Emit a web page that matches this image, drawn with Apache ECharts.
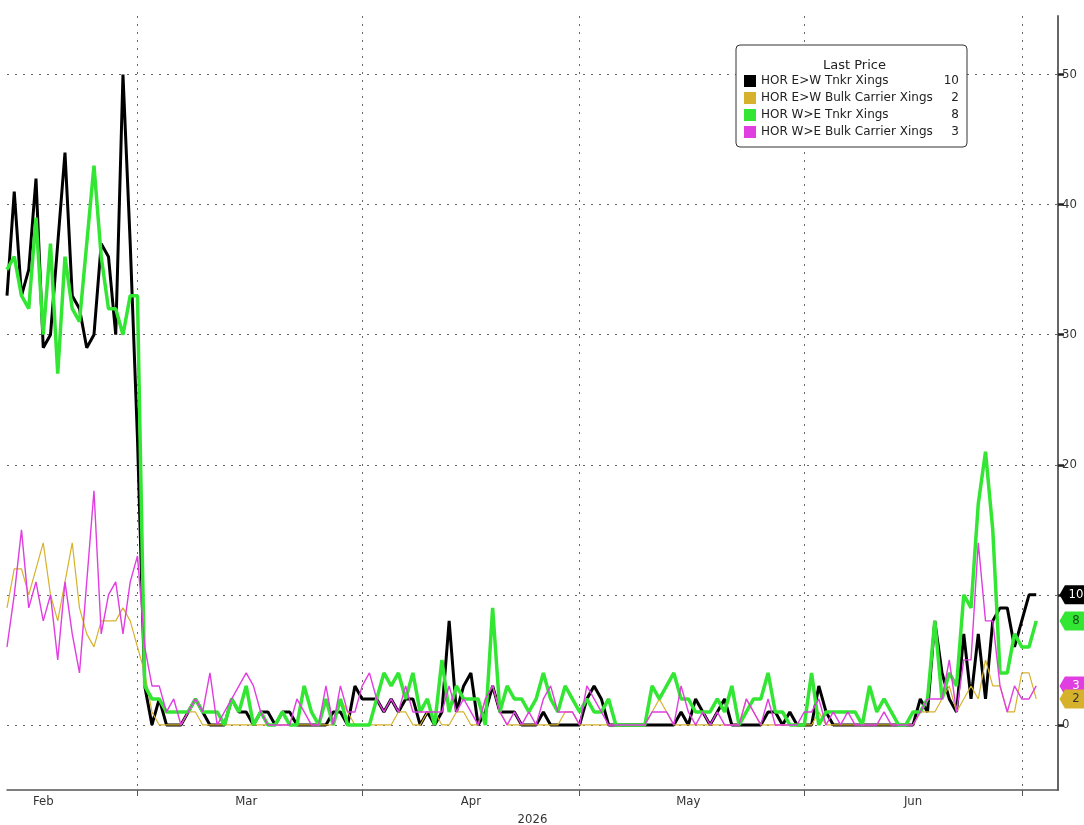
<!DOCTYPE html>
<html>
<head>
<meta charset="utf-8">
<script src="https://cdn.jsdelivr.net/npm/echarts@6/dist/echarts.min.js"></script>
<style>
  html, body { margin: 0; padding: 0; background: #fff; }
  #chart { width: 1084px; height: 825px; }
</style>
</head>
<body>
<div id="chart"></div>
<script>
// daily crossings, Feb 11 -> Jul 3 2026 (axis runs on to Jul 6)
const startDay = Date.UTC(2026, 1, 11);
const dayCount = 146;
const monthNames = ["Jan", "Feb", "Mar", "Apr", "May", "Jun", "Jul"];
const yTicks = [0, 10, 20, 30, 40, 50];

const ewTanker = [
  33, 41, 33, 35, 42, 29, 30, 37, 44, 33, 32, 29, 30, 37, 36, 30, 50, 37,
  22, 3, 0, 2, 0, 0, 0, 1, 2, 1, 0, 0, 0, 2, 1, 1, 0, 1, 1, 0, 1, 1, 0, 0, 0, 0, 0, 1, 1, 0, 3, 2,
  2, 2, 1, 2, 1, 2, 2, 0, 1, 0, 1, 8, 1, 3, 4, 0, 1, 3, 1, 1, 1, 0, 0, 0, 1, 0, 0, 0, 0, 0,
  2, 3, 2, 0, 0, 0, 0, 0, 0, 0, 0, 0, 0, 1, 0, 2, 1, 0, 1, 2, 0, 0, 0, 0, 0, 1, 1, 0, 1, 0,
  0, 0, 3, 1, 0, 0, 0, 0, 0, 0, 0, 0, 0, 0, 0, 0, 2, 1, 8, 4, 2, 1, 7, 2, 7, 2, 8, 9, 9, 6,
  8, 10, 10
];
const ewBulk = [
  9, 12, 12, 10, 12, 14, 10, 8, 11, 14, 9, 7, 6, 8, 8, 8, 9, 8,
  6, 4, 1, 0, 0, 0, 0, 1, 1, 0, 0, 0, 0, 0, 0, 0, 0, 0, 0, 0, 0, 0, 0, 0, 0, 0, 0, 0, 2, 1, 0, 0,
  0, 0, 0, 0, 1, 1, 0, 0, 1, 1, 0, 0, 1, 1, 0, 0, 2, 3, 1, 0, 0, 0, 0, 0, 0, 0, 0, 1, 1, 0,
  0, 0, 0, 0, 0, 0, 0, 0, 0, 1, 2, 1, 0, 0, 0, 0, 0, 0, 0, 0, 0, 0, 2, 1, 0, 0, 0, 0, 0, 0,
  0, 0, 1, 0, 0, 0, 0, 0, 0, 0, 0, 0, 0, 0, 0, 0, 1, 1, 1, 2, 3, 1, 2, 3, 2, 5, 3, 3, 1, 1,
  4, 4, 2
];
const weTanker = [
  35, 36, 33, 32, 39, 30, 37, 27, 36, 32, 31, 37, 43, 36, 32, 32, 30, 33,
  33, 3, 2, 2, 1, 1, 1, 1, 2, 1, 1, 1, 0, 2, 1, 3, 0, 1, 0, 0, 1, 0, 0, 3, 1, 0, 2, 0, 2, 0, 0, 0,
  0, 2, 4, 3, 4, 2, 4, 1, 2, 0, 5, 1, 3, 2, 2, 2, 0, 9, 1, 3, 2, 2, 1, 2, 4, 2, 1, 3, 2, 1,
  2, 1, 1, 2, 0, 0, 0, 0, 0, 3, 2, 3, 4, 2, 2, 1, 1, 1, 2, 1, 3, 0, 1, 2, 2, 4, 1, 1, 0, 0,
  0, 4, 0, 1, 1, 1, 1, 1, 0, 3, 1, 2, 1, 0, 0, 1, 1, 2, 8, 2, 4, 3, 10, 9, 17, 21, 15, 4, 4, 7,
  6, 6, 8
];
const weBulk = [
  6, 10, 15, 9, 11, 8, 10, 5, 11, 7, 4, 11, 18, 7, 10, 11, 7, 11,
  13, 6, 3, 3, 1, 2, 0, 1, 2, 1, 4, 0, 1, 2, 3, 4, 3, 1, 0, 0, 0, 0, 2, 1, 0, 0, 3, 0, 3, 1, 1, 3,
  4, 2, 1, 2, 1, 3, 1, 1, 1, 1, 1, 3, 1, 2, 1, 0, 2, 3, 1, 0, 1, 0, 1, 0, 2, 3, 1, 1, 1, 0,
  3, 2, 1, 0, 0, 0, 0, 0, 0, 1, 1, 1, 0, 3, 1, 0, 1, 0, 1, 0, 0, 0, 2, 1, 0, 2, 0, 0, 0, 0,
  1, 1, 2, 0, 1, 0, 1, 0, 0, 0, 0, 1, 0, 0, 0, 0, 1, 2, 2, 2, 5, 1, 5, 5, 14, 8, 8, 3, 1, 3,
  2, 2, 3
];

const seriesNames = [
  "HOR E>W Tnkr Xings",
  "HOR E>W Bulk Carrier Xings",
  "HOR W>E Tnkr Xings",
  "HOR W>E Bulk Carrier Xings"
];
const seriesValues = [ewTanker, ewBulk, weTanker, weBulk];
const seriesColors = ["#000000", "#d6b22c", "#33e633", "#e03ee0"];
const lineWidths = [3, 1.2, 3.5, 1.4];
const tagTextColors = ["#ffffff", "#333333", "#1a4d1a", "#ffffff"];

const dates = [];
for (let i = 0; i < dayCount; i++) {
  dates.push(new Date(startDay + i * 86400000).toISOString().slice(0, 10));
}
const lastOf = arr => arr[arr.length - 1];
const font = "'DejaVu Sans', sans-serif";
const axisFont = "'DejaVu Sans Condensed', 'DejaVu Sans', sans-serif";

const myChart = echarts.init(document.getElementById("chart"));

// last-value tags on the right axis, gold drawn last so it sits on top
const tagOrder = [0, 2, 3, 1];
const tags = tagOrder.map(i => ({
  coord: [dates.length - 1, lastOf(seriesValues[i])],
  value: lastOf(seriesValues[i]),
  itemStyle: { color: seriesColors[i] },
  label: { color: tagTextColors[i] }
}));

const series = seriesValues.map((vals, i) => ({
  type: "line",
  name: seriesNames[i],
  data: vals,
  color: seriesColors[i],
  showSymbol: false,
  symbol: "none",
  lineStyle: { width: lineWidths[i], color: seriesColors[i] },
  z: 2 + i
}));
series[3].markPoint = {
  symbol: "path://M0,9 L6,0 L30,0 L30,18 L6,18 Z",
  symbolSize: [27, 19],
  symbolOffset: [15, 0],
  silent: true,
  label: { show: true, fontFamily: axisFont, fontSize: 13, offset: [3, 0] },
  data: tags
};

const option = {
  backgroundColor: "#fff",
  animation: false,
  textStyle: { fontFamily: font },
  grid: { left: 7, right: 26, top: 16, bottom: 35, containLabel: false, outerBoundsMode: "none" },
  title: {
    text: "Last Price",
    left: 818,
    top: 54,
    textStyle: { fontFamily: font, fontSize: 13, fontWeight: "normal", color: "#222" }
  },
  legend: {
    left: 736,
    top: 45,
    orient: "vertical",
    selectedMode: false,
    icon: "rect",
    itemWidth: 12,
    itemHeight: 12,
    itemGap: 5,
    padding: [30, 8, 9, 8],
    backgroundColor: "#fff",
    borderColor: "#333",
    borderWidth: 1,
    borderRadius: 4,
    data: seriesNames,
    formatter: name => {
      const v = lastOf(seriesValues[seriesNames.indexOf(name)]);
      return "{n|" + name + "}{v|" + v + "}";
    },
    textStyle: {
      fontFamily: font,
      fontSize: 12,
      color: "#222",
      rich: {
        n: { width: 182, fontSize: 12, fontFamily: font, color: "#222" },
        v: { width: 16, align: "right", fontSize: 12, fontFamily: font, color: "#222" }
      }
    }
  },
  xAxis: {
    type: "category",
    data: dates,
    boundaryGap: false,
    name: "2026",
    nameLocation: "middle",
    nameGap: 22,
    nameTextStyle: { fontFamily: axisFont, fontSize: 13, color: "#333" },
    axisLine: { onZero: false, lineStyle: { color: "#555", width: 1.5 } },
    axisTick: {
      interval: (i, v) => v.slice(8) === "01",
      length: 6,
      lineStyle: { color: "#555" }
    },
    axisLabel: {
      interval: (i, v) => v.slice(8) === "16",
      formatter: v => monthNames[+v.slice(5, 7) - 1],
      fontFamily: axisFont,
      color: "#333",
      fontSize: 13,
      margin: 5
    },
    splitLine: {
      show: true,
      interval: (i, v) => v.slice(8) === "01",
      lineStyle: { color: "#666", type: [2, 6], width: 1 }
    }
  },
  yAxis: {
    type: "value",
    position: "right",
    min: -5,
    max: 54.5,
    axisLine: { show: true, lineStyle: { color: "#666", width: 2 } },
    axisTick: { show: true, customValues: yTicks, length: 6, lineStyle: { color: "#222", width: 2.5 } },
    axisLabel: { customValues: yTicks, fontFamily: axisFont, color: "#333", fontSize: 13, margin: 4 },
    splitLine: { show: true, customValues: yTicks, lineStyle: { color: "#666", type: [2, 6], width: 1 } }
  },
  series: series
};

myChart.setOption(option);
window.addEventListener("resize", function () {
  myChart.resize();
});
</script>
</body>
</html>
